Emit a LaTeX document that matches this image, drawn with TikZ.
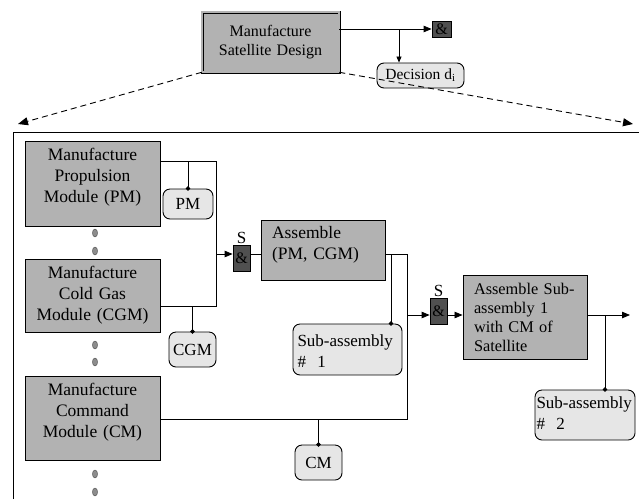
\documentclass[tikz,border=0pt]{standalone}
\usepackage{fontspec}
\setmainfont{Liberation Serif}
\usetikzlibrary{arrows.meta}

\definecolor{boxgray}{HTML}{B2B2B2}
\definecolor{tokengray}{HTML}{E6E6E6}
\definecolor{joingray}{HTML}{505050}
\definecolor{dotgray}{HTML}{8C8C8C}

\begin{document}
\begin{tikzpicture}[x=1pt, y=-1pt,
  task/.style={draw=black, line width=0.9pt, fill=boxgray, inner xsep=0pt, inner ysep=3pt,
               align=center, font=\fontsize{17.5}{21}\selectfont},
  modtask/.style={task, text width=135pt, text height=16pt},
  lefttask/.style={task, align=left, inner xsep=11pt, text width=102pt},
  token/.style={draw=black, line width=0.9pt, fill=tokengray, rounded corners=7pt,
                inner sep=0pt, font=\fontsize{17}{21}\selectfont},
  lefttoken/.style={token, align=left, inner ysep=3pt},
  joinbox/.style={draw=black, line width=0.8pt, fill=joingray, inner sep=0pt,
                  font=\fontsize{16}{16}\selectfont},
  slabel/.style={label={[font=\fontsize{17}{17}\selectfont, inner sep=1pt]above:S}},
  wire/.style={line width=0.8pt},
  flow/.style={line width=0.8pt, -{Triangle[length=8pt,width=6.5pt]}},
  tap/.style={line width=0.8pt, -{Circle[length=4.5pt]}, shorten >=-2.2pt},
  expand/.style={line width=0.9pt, dash pattern=on 6pt off 4pt, -{Triangle[length=10pt,width=8pt]}},
  moduledot/.style={fill=dotgray, draw=black!70, line width=0.4pt}
]
\useasboundingbox (0,0) rectangle (639,499);

% ---------- top level activity ----------
\node[task, text width=137pt, minimum height=60pt, inner ysep=0pt,
      double=boxgray, double distance=1.8pt, line width=0.6pt,
      font=\fontsize{16}{19}\selectfont] (sat) at (270.5,42) {Manufacture\\Satellite Design};
\node[joinbox, minimum width=19pt, minimum height=16pt] (and0) at (441.5,29) {\&};
\node[token, minimum width=87pt, minimum height=25pt, font=\fontsize{15.5}{18}\selectfont]
      (dec) at (420.5,75.5) {Decision d\textsubscript{i}};

\draw[flow] (sat.east |- and0) -- (and0.west);
\coordinate (bd) at (399,29);
\draw[line width=0.8pt, -{Triangle[length=6pt,width=5pt]}] (bd) -- (bd |- dec.north);

% ---------- decomposition ----------
\coordinate (fl) at (18,124);
\coordinate (fr) at (633,124);
\draw[expand] (sat.south west) -- (fl);
\draw[expand] (sat.south east) -- (fr);
\draw[line width=0.8pt] (13,499) -- (13,132) -- (639,132);

% module manufacturing
\node[modtask, text depth=63pt] (pm) at (92.5,183.5)
      {Manufacture\\Propulsion\\Module (PM)};
\node[modtask, text depth=51pt] (cgm) at (92.5,295.5)
      {Manufacture\\Cold Gas\\Module (CGM)};
\node[modtask, text depth=62pt] (cm) at (92.5,418)
      {Manufacture\\Command\\Module (CM)};

\foreach \yy in {233,251,345,362,474,492}
  \filldraw[moduledot] (95,\yy) ellipse (2.6pt and 4pt);

% produced items
\node[token, minimum width=50pt, minimum height=30pt] (pmo) at (188,204) {PM};
\node[token, minimum width=47pt, minimum height=35pt] (cgmo) at (192.5,349.5) {CGM};
\node[token, minimum width=47pt, minimum height=35pt] (cmo) at (318.5,462.5) {CM};

% first assembly
\node[joinbox, minimum width=17pt, minimum height=26pt, slabel] (and1) at (241.5,258) {\&};
\node[lefttask, minimum height=60pt, text height=15pt, text depth=39pt] (asm) at (323,250)
      {Assemble\\(PM, CGM)};
\node[lefttoken, text width=100pt, inner xsep=4.5pt, text height=19pt, text depth=26pt]
      (sub1) at (347.5,349.5) {\mbox{Sub-assembly}\\\#\ \ 1};

% second assembly
\node[joinbox, minimum width=17pt, minimum height=26pt, slabel] (and2) at (438.5,311) {\&};
\node[lefttask, font=\fontsize{16.3}{19}\selectfont, text height=16pt, text depth=62pt] (asm2) at (525,317)
      {Assemble Sub-\\assembly 1\\with CM of\\Satellite};
\node[lefttoken, text width=97pt, inner xsep=1.5pt, text height=15pt, text depth=29pt]
      (sub2) at (585,415) {\mbox{Sub-assembly}\\\#\ \ 2};

% connectors
\coordinate (c1) at (216,161);
\coordinate (c2) at (216,306);
\draw[wire] (pm.east |- c1) -- (c1) -- (c2) -- (cgm.east |- c2);
\draw[tap] (pmo.north |- c1) -- (pmo.north);
\draw[tap] (cgmo.north |- c2) -- (cgmo.north);

\coordinate (r1) at (216,254);
\draw[flow] (r1) -- (and1.west |- r1);
\draw[wire] (and1.east |- r1) -- (asm.west |- r1);

\coordinate (c3) at (407,254);
\coordinate (c4) at (407,419);
\draw[wire] (asm.east |- c3) -- (c3) -- (c4) -- (cm.east |- c4);
\coordinate (t1) at (391,254);
\draw[tap] (t1) -- (t1 |- sub1.north);
\draw[tap] (cmo.north |- c4) -- (cmo.north);

\coordinate (r2) at (407,315);
\draw[flow] (r2) -- (and2.west |- r2);
\draw[flow] (and2.east |- r2) -- (asm2.west |- r2);
\coordinate (out) at (630,315);
\draw[flow] (asm2.east |- out) -- (out);
\coordinate (t2) at (605,315);
\draw[tap] (t2) -- (t2 |- sub2.north);
\end{tikzpicture}
\end{document}
